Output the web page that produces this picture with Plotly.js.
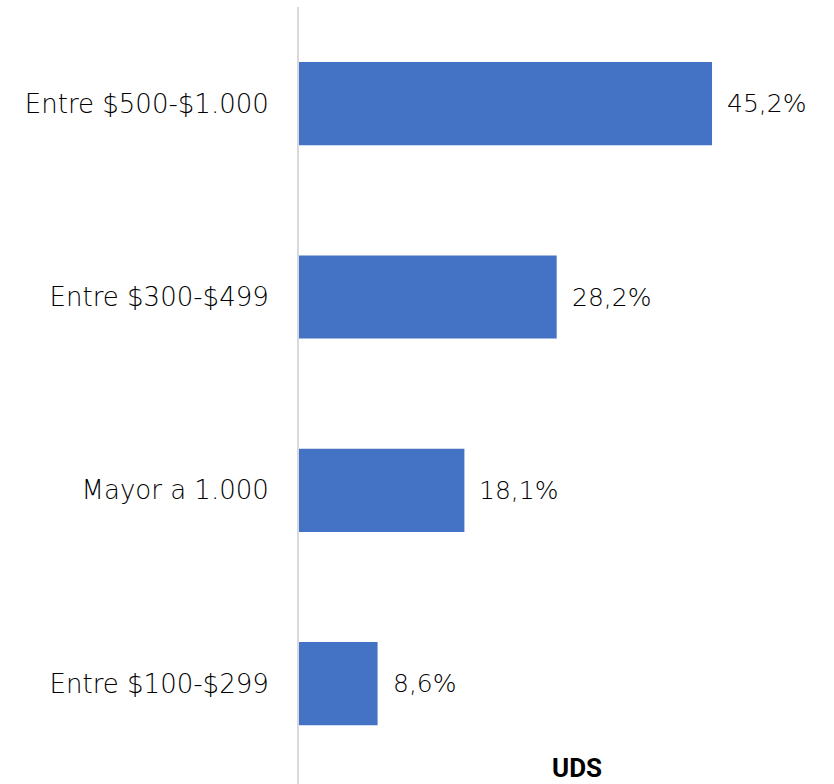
<!DOCTYPE html>
<html>
<head>
<meta charset="utf-8">
<script src="https://cdn.plot.ly/plotly-3.0.1.min.js"></script>
<style>html,body{margin:0;padding:0;background:#fff;}#chart{width:834px;height:784px;}</style>
</head>
<body>
<div id="chart"></div>
<script>
const categories = ["Entre $500-$1.000", "Entre $300-$499", "Mayor a 1.000", "Entre $100-$299"];
const values = [45.2, 28.2, 18.1, 8.6];
const labels = ["45,2%", "28,2%", "18,1%", "8,6%"];
const axisTitle = "UDS";

const FONT = "'DejaVu Sans', sans-serif";

const trace = {
  type: "bar",
  orientation: "h",
  x: values,
  y: categories,
  marker: {color: "#4472C4"},
  width: 0.43,
  hoverinfo: "none"
};

const annotations = values.map((v, i) => ({
  x: v, y: categories[i], xref: "x", yref: "y",
  text: labels[i], showarrow: false,
  xanchor: "left", yanchor: "middle", xshift: 13,
  font: {family: FONT, size: 25, weight: 200, color: "#000"}
}));
annotations.push({
  x: 0.5245, y: 0.02, xref: "paper", yref: "paper",
  text: "<b>" + axisTitle + "</b>", showarrow: false,
  xanchor: "center", yanchor: "middle",
  font: {family: "Roboto, 'Liberation Sans', sans-serif", size: 26, color: "#000"}
});

const layout = {
  width: 834, height: 784,
  margin: {l: 299, r: 5, t: 7, b: 0},
  paper_bgcolor: "#fff", plot_bgcolor: "#fff",
  showlegend: false,
  xaxis: {range: [0, 58], visible: false, fixedrange: true},
  yaxis: {
    type: "category",
    range: [3.519, -0.5],
    showline: true, linecolor: "#d9d9d9", linewidth: 2,
    showgrid: false, zeroline: false,
    ticks: "", ticklabelstandoff: 23,
    tickfont: {family: FONT, size: 26, weight: 200, color: "#000"}
  },
  annotations: annotations
};

Plotly.newPlot("chart", [trace], layout, {displayModeBar: false, staticPlot: true});
</script>
</body>
</html>
